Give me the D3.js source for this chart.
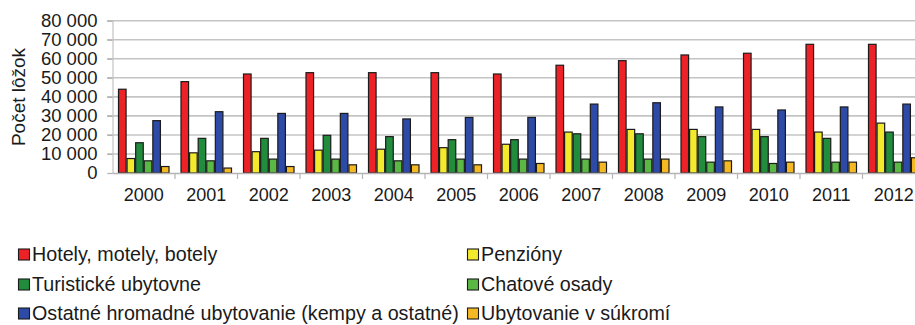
<!DOCTYPE html>
<html>
<head>
<meta charset="utf-8">
<script src="https://cdn.jsdelivr.net/npm/d3@7"></script>
<style>
  html, body { margin: 0; padding: 0; background: #fff; }
  svg { display: block; overflow: hidden; }
  text { font-family: "Liberation Sans", Arial, sans-serif; fill: #1a1a1a; }
</style>
</head>
<body>
<svg id="chart" width="915" height="325"></svg>
<script>
const years = ["2000","2001","2002","2003","2004","2005","2006","2007","2008","2009","2010","2011","2012"];
const seriesNames = [
  "Hotely, motely, botely",
  "Penzióny",
  "Turistické ubytovne",
  "Chatové osady",
  "Ostatné hromadné ubytovanie (kempy a ostatné)",
  "Ubytovanie v súkromí"
];
const seriesColors = ["#ec2227", "#f4ea2d", "#218c3c", "#5bb845", "#2c4aa6", "#f5b923"];
const hotely     = [44000, 48000, 52000, 52700, 52700, 52700, 52000, 56600, 59000, 62000, 62900, 67600, 67600];
const penziony   = [7600, 10600, 11200, 12000, 12500, 13300, 15100, 21500, 22900, 22900, 22900, 21500, 26200];
const ubytovne   = [15900, 18200, 18200, 19800, 19100, 17500, 17500, 20600, 20600, 19100, 19100, 18200, 21500];
const chatove    = [6400, 6400, 7300, 7300, 6400, 7300, 7300, 7300, 7300, 5700, 5000, 5700, 5700];
const ostatne    = [27500, 32200, 31300, 31300, 28400, 29200, 29200, 36200, 36900, 34700, 33100, 34700, 36200];
const sukromie   = [3400, 2600, 3400, 4300, 4300, 4300, 5000, 5700, 7300, 6400, 5700, 5700, 8000];
const seriesValues = [hotely, penziony, ubytovne, chatove, ostatne, sukromie];
const yTicks = [0, 10000, 20000, 30000, 40000, 50000, 60000, 70000, 80000];
const yTitle = "Počet lôžok";

const svg = d3.select("#chart");
const fmt = v => v === 0 ? "0" : d3.format(",")(v).replace(/,/g, " ");

const x0 = d3.scaleBand().domain(years).range([112.5, 112.5 + 62.5 * years.length]).padding(0);
const x1 = d3.scaleBand().domain(d3.range(seriesNames.length)).range([5.5, 57]).padding(0);
const y = d3.scaleLinear().domain([0, 80000]).range([173, 20.7]);

// gridlines
svg.append("g").selectAll("line").data(yTicks.filter(t => t > 0)).join("line")
  .attr("x1", 107).attr("x2", 915)
  .attr("y1", d => y(d)).attr("y2", d => y(d))
  .attr("stroke", "#c4c4c4").attr("stroke-width", 1.6);

// y axis
const yAxis = svg.append("g").attr("transform", "translate(112.5,0)")
  .call(d3.axisLeft(y).tickValues(yTicks).tickFormat(fmt).tickSize(5).tickPadding(10));
yAxis.select(".domain").attr("stroke", "#c4c4c4").attr("stroke-width", 1.2);
yAxis.selectAll(".tick line").attr("stroke", "#b0b0b0").attr("stroke-width", 1.2);
yAxis.selectAll(".tick text").attr("font-size", "18.5px").attr("fill", "#1a1a1a")
  .attr("font-family", '"Liberation Sans", Arial, sans-serif');

// bars
const groups = svg.append("g").selectAll("g").data(years).join("g")
  .attr("transform", d => `translate(${x0(d)},0)`);
groups.selectAll("rect").data((d, i) => seriesValues.map((s, k) => ({k, v: s[i]}))).join("rect")
  .attr("x", d => x1(d.k) + 0.5)
  .attr("width", x1.bandwidth() - 1)
  .attr("y", d => y(d.v))
  .attr("height", d => y(0) - y(d.v))
  .attr("fill", d => seriesColors[d.k])
  .attr("stroke", "#1b1b1b").attr("stroke-width", 1.2);

// x axis
const xAxis = svg.append("g").attr("transform", "translate(0,173)")
  .call(d3.axisBottom(x0).tickSize(0).tickPadding(15));
xAxis.select(".domain").attr("stroke", "#b5b5b5").attr("stroke-width", 1.6);
xAxis.selectAll(".tick text").attr("font-size", "18px").attr("fill", "#1a1a1a")
  .attr("font-family", '"Liberation Sans", Arial, sans-serif');
// category separator ticks
svg.append("g").selectAll("line").data(years.slice(1)).join("line")
  .attr("x1", d => x0(d)).attr("x2", d => x0(d))
  .attr("y1", 173).attr("y2", 179)
  .attr("stroke", "#b5b5b5").attr("stroke-width", 1.2);

// y title
svg.append("text")
  .attr("transform", "translate(25,97) rotate(-90)")
  .attr("text-anchor", "middle")
  .attr("font-size", "19px")
  .text(yTitle);

// legend
const legendPos = [[18, 261], [467, 261], [18, 291], [467, 291], [18, 320], [467, 320]];
const lg = svg.append("g").selectAll("g").data(seriesNames).join("g")
  .attr("transform", (d, i) => `translate(${legendPos[i][0]},${legendPos[i][1]})`);
lg.append("rect").attr("x", 0.5).attr("y", -12).attr("width", 11).attr("height", 11)
  .attr("fill", (d, i) => seriesColors[i]).attr("stroke", "#1b1b1b").attr("stroke-width", 1.1);
lg.append("text").attr("x", 14).attr("y", 0).attr("font-size", "19.7px").text(d => d);
</script>
</body>
</html>
